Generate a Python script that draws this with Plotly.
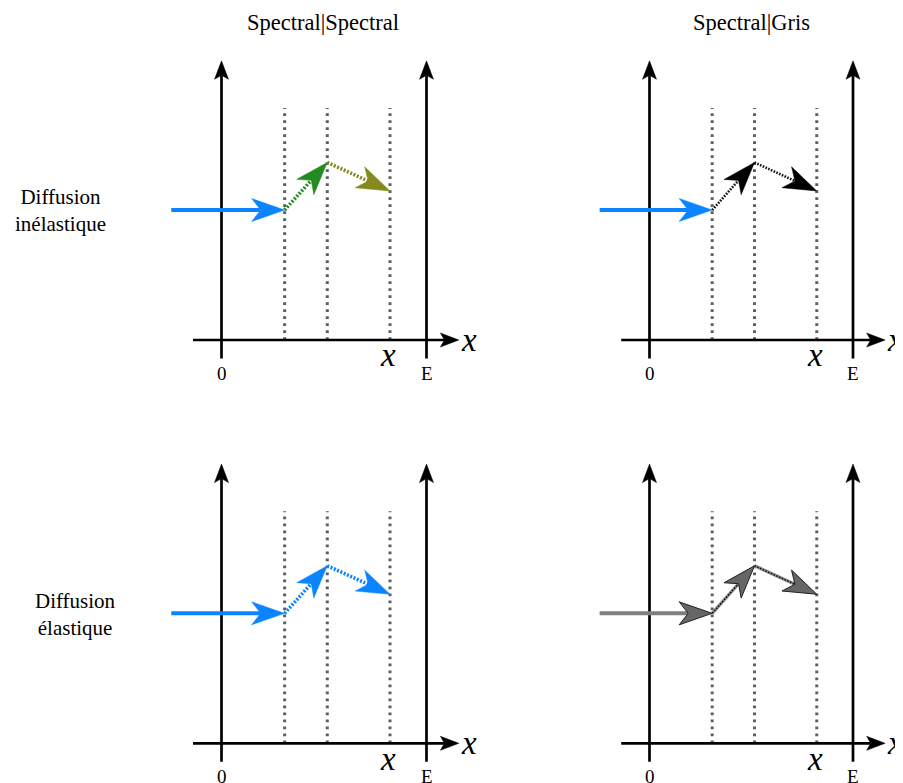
import numpy as np
import plotly.graph_objects as go

# page body has an 8px margin: draw on a slightly smaller canvas, shifted
OFF = 8
W, H = 903 - OFF, 783 - OFF

# ---------------- data (diagram units) ----------------
# x: fraction of slab thickness (0 -> left wall, 1 -> E); y: height units
interfaces = [0.308, 0.516, 0.822]
ray_x = [-0.245, 0.308, 0.516, 0.822]
ray_y = [0.634, 0.634, 0.866, 0.727]
axis_top = 1.362
axis_bottom = -0.09
xaxis_start = -0.139
xaxis_tip = 1.158
interface_top = 1.132

col_titles = ["Spectral|Spectral", "Spectral|Gris"]
row_labels = ["Diffusion<br>inélastique", "Diffusion<br>élastique"]
tick_labels = ["0", "E"]

# per panel: colours of (incoming, segment1, segment2)
seg_colors = [
    ["#0b85ff", "#228b22", "#858a1e"],
    ["#0b85ff", "#111111", "#111111"],
    ["#0b85ff", "#0b85ff", "#0b85ff"],
    ["#7f7f7f", "#555555", "#555555"],
]
head_fill = [
    ["#0b85ff", "#228b22", "#858a1e"],
    ["#0b85ff", "#000000", "#000000"],
    ["#0b85ff", "#0b85ff", "#0b85ff"],
    ["#666666", "#666666", "#666666"],
]

# ---------------- layout geometry (pixels in the 903x783 window) ----------------
Lx = [221.5, 649.5, 221.5, 649.5]
Ex = [426.5, 853.0, 426.5, 853.0]
Ay = [340.0, 340.0, 743.3, 743.3]
SY = 205.0
SERIF = "Liberation Serif"

fig = go.Figure()
layout = dict(width=W, height=H, margin=dict(l=0, r=0, t=0, b=0),
              plot_bgcolor="white", paper_bgcolor="white", showlegend=False)
annotations = []


def head_poly(xs, ys, xt, yt, sx, sy, L, hw, notch):
    dx, dy = (xt - xs) * sx, (yt - ys) * sy
    n = np.hypot(dx, dy)
    ux, uy = dx / n, dy / n
    px, py = -uy, ux
    pts = [(0, 0), (-L * ux + hw * px, -L * uy + hw * py),
           (-notch * ux, -notch * uy),
           (-L * ux - hw * px, -L * uy - hw * py), (0, 0)]
    X = [xt + a / sx for a, b in pts]
    Y = [yt + b / sy for a, b in pts]
    back = (xt - notch * ux / sx, yt - notch * uy / sy)
    return X, Y, back


for i in range(4):
    lx, ex, ay = Lx[i] - OFF, Ex[i] - OFF, Ay[i] - OFF
    sx = ex - lx
    sy = SY
    dx0, dx1 = lx - 80, min(lx + 270, W)
    dy0, dy1 = ay - 290, min(ay + 42, H)
    xa = "xaxis" if i == 0 else f"xaxis{i+1}"
    ya = "yaxis" if i == 0 else f"yaxis{i+1}"
    xr = "x" if i == 0 else f"x{i+1}"
    yr = "y" if i == 0 else f"y{i+1}"
    layout[xa] = dict(domain=[dx0 / W, dx1 / W],
                      range=[(dx0 - lx) / sx, (dx1 - lx) / sx],
                      visible=False, fixedrange=True, anchor=yr)
    layout[ya] = dict(domain=[1 - dy1 / H, 1 - dy0 / H],
                      range=[-(dy1 - ay) / sy, (ay - dy0) / sy],
                      visible=False, fixedrange=True, anchor=xr)

    def line(x, y, color, width, dash="solid"):
        fig.add_trace(go.Scatter(x=x, y=y, mode="lines", xaxis=xr, yaxis=yr,
                                 line=dict(color=color, width=width, dash=dash),
                                 hoverinfo="skip"))

    def poly(X, Y, fill, outline=None):
        fig.add_trace(go.Scatter(x=X, y=Y, mode="lines", fill="toself", xaxis=xr, yaxis=yr,
                                 fillcolor=fill,
                                 line=dict(color=outline or fill, width=1 if outline else 0.5),
                                 hoverinfo="skip"))

    # interfaces
    for xi in interfaces:
        line([xi, xi], [0, interface_top], "#5e5e5e", 3, "2.8px,4.2px")

    # axes with arrowheads
    for xv in [0, 1]:
        X, Y, back = head_poly(xv, 0, xv, axis_top, sx, sy, 18.5, 7, 14.5)
        line([xv, xv], [axis_bottom, back[1]], "black", 2.7)
        poly(X, Y, "black")
    X, Y, back = head_poly(0, 0, xaxis_tip, 0, sx, sy, 18.5, 7, 14.5)
    line([xaxis_start, back[0]], [0, 0], "black", 2.7)
    poly(X, Y, "black")

    # ray
    for k in range(3):
        xs, ys = ray_x[k], ray_y[k]
        xt, yt = ray_x[k + 1], ray_y[k + 1]
        X, Y, back = head_poly(xs, ys, xt, yt, sx, sy, 33, 11.5, 24)
        c = seg_colors[i][k]
        if k == 0:
            line([xs, back[0]], [ys, back[1]], c, 4)
        else:
            if i == 3:
                line([xs, back[0]], [ys, back[1]], "#8a8a8a", 3.2)
                line([xs, back[0]], [ys, back[1]], "#111111", 1.6, "1.5px,1.5px")
            elif i == 1:
                line([xs, back[0]], [ys, back[1]], c, 2.6, "1.6px,1.4px")
            else:
                line([xs, back[0]], [ys, back[1]], c, 3.6, "2px,1.6px")
        if i == 3:
            poly(X, Y, head_fill[i][k], "#222222")
        else:
            poly(X, Y, head_fill[i][k])

    # text labels
    for xv, t in zip([0, 1], tick_labels):
        annotations.append(dict(x=xv, y=-0.163, xref=xr, yref=yr, text=t, showarrow=False,
                                xanchor="center", yanchor="middle",
                                font=dict(family=SERIF, size=19, color="black")))
    annotations.append(dict(x=1.205, y=0.0, xref=xr, yref=yr, text="<i>x</i>", showarrow=False,
                            xanchor="center", yanchor="middle",
                            font=dict(family=SERIF, size=33, color="black")))
    annotations.append(dict(x=0.812, y=-0.075, xref=xr, yref=yr, text="<i>x</i>", showarrow=False,
                            xanchor="center", yanchor="middle",
                            font=dict(family=SERIF, size=33, color="black")))

# column titles and row labels
for cx, t in zip([323, 751], col_titles):
    annotations.append(dict(x=(cx - OFF) / W, y=1 - (22 - OFF) / H, xref="paper", yref="paper",
                            text=t, showarrow=False, xanchor="center", yanchor="middle",
                            font=dict(family=SERIF, size=22.5, color="black")))
for (cx, cy), t in zip([(60, 210.5), (75, 614)], row_labels):
    annotations.append(dict(x=(cx - OFF) / W, y=1 - (cy - OFF) / H,
                            xref="paper", yref="paper", text=t, showarrow=False,
                            xanchor="center", yanchor="middle", align="center",
                            font=dict(family=SERIF, size=21, color="black")))

layout["annotations"] = annotations
fig.update_layout(**layout)
fig.write_html("out.html")
